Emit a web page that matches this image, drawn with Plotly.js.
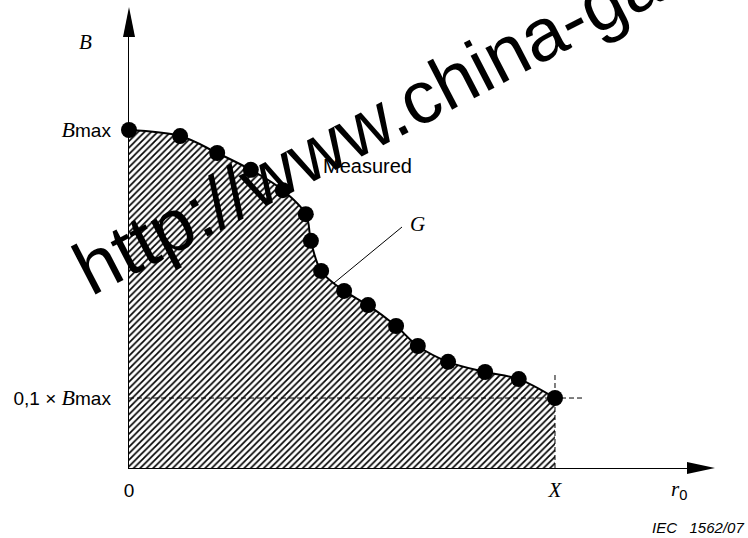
<!DOCTYPE html>
<html>
<head>
<meta charset="utf-8">
<script src="https://cdn.plot.ly/plotly-3.0.1.min.js"></script>
<style>html,body{margin:0;padding:0;background:#fff;}#chart{width:748px;height:538px;}</style>
</head>
<body>
<div id="chart"></div>
<script>
// ---- data ----
const r0Values = [0, 1.20, 2.07, 2.86, 3.61, 4.15, 4.27, 4.51, 5.05, 5.61, 6.27, 6.78, 7.49, 8.36, 9.15, 10.0];
const bValues  = [1.000, 0.982, 0.932, 0.882, 0.822, 0.751, 0.672, 0.583, 0.524, 0.482, 0.420, 0.361, 0.314, 0.284, 0.263, 0.207];
const xTickText = ['0', '<span style="font-family:Liberation Serif;font-size:21px"><i>X</i></span>'];
const yTickText = ['<span style="font-family:Liberation Serif;font-size:22px"><i>B</i></span>max',
                   '0,1 \u00D7 <span style="font-family:Liberation Serif;font-size:22px"><i>B</i></span>max'];
const curveLabel = 'Measured';
const watermark = 'http://www.china-gauges.com';

// ---- geometry helpers (pixel -> paper) ----
const W = 748, H = 538;
const M = {l:129, r:61, t:37, b:70};
const PW = W - M.l - M.r, PH = H - M.t - M.b;
const xp = px => (px - M.l) / PW;
const yp = py => (H - M.b - py) / PH;

const xEnd = r0Values[r0Values.length - 1];
const yEnd = bValues[bValues.length - 1];
const xRange = [0, 13.099];
const yRange = [0, 1.2751];
const xOf = px => xp(px) * (xRange[1] - xRange[0]);
const yOf = py => yp(py) * (yRange[1] - yRange[0]);

const traces = [
  { // hatched area under the measured curve
    x: r0Values, y: bValues, type: 'scatter', mode: 'lines+markers',
    line: {color: '#000', width: 2, shape: 'spline', smoothing: 1},
    marker: {color: '#000', size: 16},
    fill: 'tozeroy', fillcolor: 'rgba(0,0,0,0)',
    fillpattern: {shape: '/', size: 4.6, solidity: 0.36, fgcolor: '#000', bgcolor: '#fff'},
    cliponaxis: false, hoverinfo: 'skip'
  },
  { // 0,1 x Bmax level
    x: [0, xOf(585)], y: [yEnd, yEnd], type: 'scatter', mode: 'lines',
    line: {color: '#000', width: 1, dash: '5px,3px'}, cliponaxis: false, hoverinfo: 'skip'
  },
  { // X level
    x: [xEnd, xEnd], y: [0, yOf(373)], type: 'scatter', mode: 'lines',
    line: {color: '#000', width: 1, dash: '5px,3px'}, cliponaxis: false, hoverinfo: 'skip'
  }
];

const serif = 'Liberation Serif';
const sans = 'Liberation Sans';
function ann(px, py, text, font, extra) {
  return Object.assign({xref: 'paper', yref: 'paper', x: xp(px), y: yp(py), text: text,
    showarrow: false, xanchor: 'center', yanchor: 'middle', font: font}, extra || {});
}
const layout = {
  width: W, height: H, margin: M, showlegend: false,
  paper_bgcolor: '#fff', plot_bgcolor: '#fff',
  font: {family: sans, color: '#000', size: 19},
  xaxis: {range: xRange, showgrid: false, zeroline: false, showline: true, linecolor: '#000', linewidth: 1.3,
          ticks: '', tickvals: [r0Values[0], xEnd], ticktext: xTickText, ticklabelstandoff: 5,
          tickfont: {family: sans, size: 19, color: '#000'}, fixedrange: true},
  yaxis: {range: yRange, showgrid: false, zeroline: false, showline: true, linecolor: '#000', linewidth: 1.3,
          ticks: '', tickvals: [yEnd, bValues[0]], ticktext: [yTickText[1], yTickText[0]], ticklabelstandoff: 13,
          tickfont: {family: sans, size: 19, color: '#000'}, fixedrange: true},
  shapes: [
    {type: 'path', xref: 'paper', yref: 'paper', fillcolor: '#000', line: {width: 0},
     path: `M${xp(129)},${yp(7)} L${xp(123)},${yp(37)} L${xp(135)},${yp(37)} Z`},
    {type: 'path', xref: 'paper', yref: 'paper', fillcolor: '#000', line: {width: 0},
     path: `M${xp(715)},${yp(468)} L${xp(687)},${yp(462)} L${xp(687)},${yp(474)} Z`},
    {type: 'line', xref: 'paper', yref: 'paper', x0: xp(334), y0: yp(283), x1: xp(402), y1: yp(227),
     line: {color: '#000', width: 1}}
  ],
  annotations: [
    ann(85, 42, '<i>B</i>', {family: serif, size: 21, color: '#000'}),
    ann(367, 166, curveLabel, {family: sans, size: 20, color: '#000'}),
    ann(417, 224, '<i>G</i>', {family: serif, size: 21, color: '#000'}),
    ann(679, 490, '<span style="font-family:Liberation Serif"><i>r</i></span><sub>0</sub>', {family: sans, size: 21, color: '#000'}),
    ann(746, 527, '<i>IEC\u00A0\u00A0 1562/07</i>', {family: sans, size: 15, color: '#000'}, {xanchor: 'right'}),
    ann(511, 51, watermark, {family: sans, size: 74.5, color: '#000'}, {textangle: -27.4})
  ]
};

Plotly.newPlot('chart', traces, layout, {staticPlot: true, displayModeBar: false});
</script>
</body>
</html>
